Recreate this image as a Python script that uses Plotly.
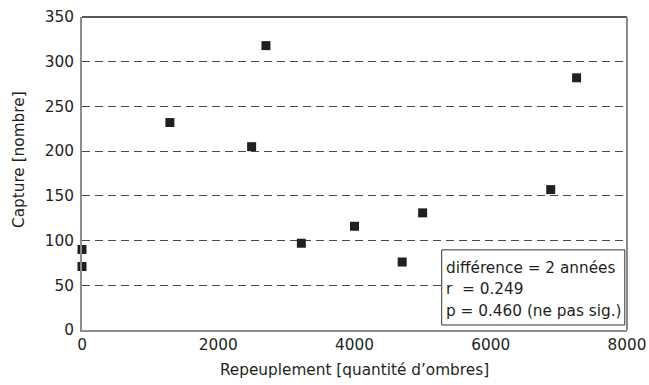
import plotly.graph_objects as go

# Data
repeuplement = [0, 0, 1290, 2490, 2700, 3220, 4000, 4700, 5000, 6880, 7260]
capture = [90, 71, 232, 205, 318, 97, 116, 76, 131, 157, 282]

x_ticks = [0, 2000, 4000, 6000, 8000]
y_ticks = [0, 50, 100, 150, 200, 250, 300, 350]

x_title = "Repeuplement [quantité d’ombres]"
y_title = "Capture [nombre]"
stats_lines = ["différence = 2 années", "r  = 0.249", "p = 0.460 (ne pas sig.)"]

FONT = "DejaVu Sans, Verdana, sans-serif"
TXT = "#231f20"
FS = 15.3

fig = go.Figure()
fig.add_trace(go.Scatter(
    x=repeuplement, y=capture, mode="markers",
    marker=dict(symbol="square", size=9, color=TXT, line=dict(width=0)),
    cliponaxis=False, showlegend=False,
))

fig.update_layout(
    width=649, height=385,
    margin=dict(l=82, r=22, t=17, b=55, autoexpand=False),
    paper_bgcolor="white", plot_bgcolor="white",
    font=dict(family=FONT, size=FS, color=TXT),
    xaxis=dict(
        range=[0, 8000], tickvals=x_ticks, ticks="", showgrid=False,
        zeroline=False, showline=True, linecolor="#8c8c8c", linewidth=2,
        title=dict(text=x_title, standoff=11, font=dict(size=FS)),
        tickfont=dict(size=FS), automargin=False,
    ),
    yaxis=dict(
        range=[0, 350], tickvals=y_ticks, ticks="", showgrid=True,
        gridcolor="#4a4a4a", gridwidth=1.2, griddash="8px,5px",
        zeroline=False, showline=True, linecolor="#8c8c8c", linewidth=2,
        tickfont=dict(size=FS), automargin=False, ticklabelstandoff=3,
    ),
)

# y-axis title (slightly above the plot centre, as in the original)
fig.add_annotation(
    xref="paper", yref="paper", x=0, y=0.543, xshift=-63,
    text=y_title, textangle=-90, showarrow=False,
    xanchor="center", yanchor="middle", font=dict(size=FS, color=TXT),
)

# frame: dark top line, gray right line
fig.add_shape(type="line", xref="x domain", yref="y domain",
              x0=0, x1=1, y0=1, y1=1, line=dict(color="#222222", width=1.5))
fig.add_shape(type="line", xref="x domain", yref="y domain",
              x0=1, x1=1, y0=0, y1=1, line=dict(color="#8c8c8c", width=2))

# statistics box
fig.add_shape(type="rect", xref="x domain", yref="y domain",
              x0=0.660, x1=0.996, y0=0.016, y1=0.256,
              line=dict(color="#333333", width=1), fillcolor="white", layer="above")
line_y = [0.198, 0.131, 0.061]
for line, yy in zip(stats_lines, line_y):
    fig.add_annotation(
        xref="x domain", yref="y domain",
        x=0.664, y=yy,
        text=line, showarrow=False, xanchor="left", yanchor="middle",
        font=dict(size=FS, color=TXT, family=FONT),
    )

fig.write_html("out.html")
